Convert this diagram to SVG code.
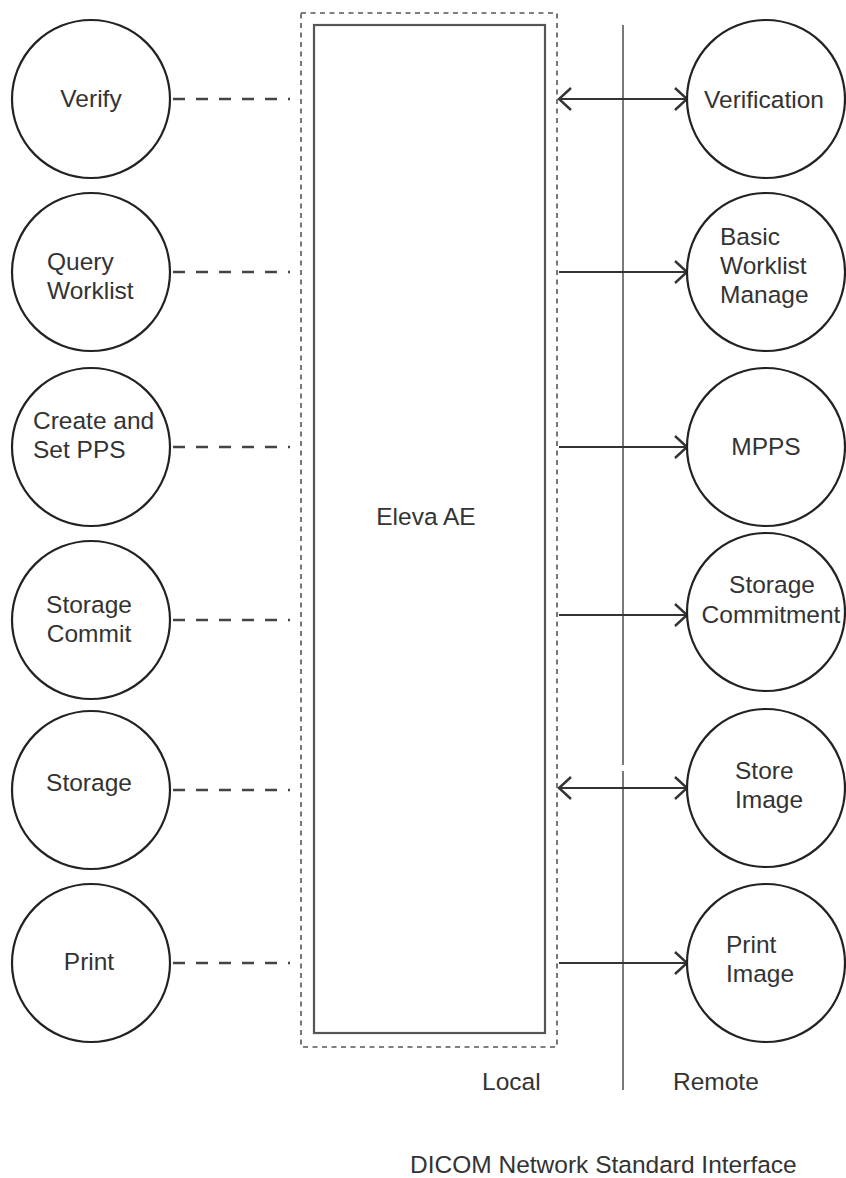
<svg xmlns="http://www.w3.org/2000/svg" width="846" height="1178" viewBox="0 0 846 1178">
<defs>
<style>
.bg{fill:#fff}
.circ{fill:#fff;stroke:#222;stroke-width:2.2}
.lbl{font-family:"Liberation Sans",Arial,sans-serif;font-size:24.5px;fill:#333}
.mid{text-anchor:middle}
.dash{stroke:#444;stroke-width:2.6;stroke-dasharray:12,11;fill:none}
.arr{stroke:#333;stroke-width:2.2;fill:none}
.frame{fill:none;stroke:#555;stroke-width:1.6;stroke-dasharray:5,4.5}
.inner{fill:#fff;stroke:#555;stroke-width:2.2}
.sep{stroke:#333;stroke-width:1.3;fill:none}
</style>
<marker id="chev" viewBox="0 0 16 24" markerUnits="userSpaceOnUse" markerWidth="16" markerHeight="24" refX="13" refY="12" orient="auto-start-reverse">
<path d="M1,1 L13,12 L1,23" fill="none" stroke="#333" stroke-width="2.4"/>
</marker>
</defs>
<rect class="bg" x="0" y="0" width="846" height="1178"/>

<g id="system">
<rect class="frame" x="301" y="13" width="256" height="1034"/>
<rect class="inner" x="314" y="25" width="231" height="1008"/>
<text class="lbl mid" x="426" y="525">Eleva AE</text>
</g>

<g id="boundary">
<path class="sep" d="M623,25 V765 M623,771 V1090"/>
<text class="lbl" x="482" y="1090">Local</text>
<text class="lbl" x="673" y="1090">Remote</text>
<text class="lbl" x="410" y="1173">DICOM Network Standard Interface</text>
</g>

<g id="connectors">
<line class="dash" x1="173" y1="99" x2="290" y2="99"/>
<line class="dash" x1="173" y1="272" x2="290" y2="272"/>
<line class="dash" x1="173" y1="447" x2="290" y2="447"/>
<line class="dash" x1="173" y1="620" x2="290" y2="620"/>
<line class="dash" x1="173" y1="790" x2="290" y2="790"/>
<line class="dash" x1="173" y1="963" x2="290" y2="963"/>
<line class="arr" x1="559" y1="99" x2="687" y2="99" marker-start="url(#chev)" marker-end="url(#chev)"/>
<line class="arr" x1="559" y1="272" x2="687" y2="272" marker-end="url(#chev)"/>
<line class="arr" x1="559" y1="447" x2="687" y2="447" marker-end="url(#chev)"/>
<line class="arr" x1="559" y1="615" x2="687" y2="615" marker-end="url(#chev)"/>
<line class="arr" x1="559" y1="788" x2="687" y2="788" marker-start="url(#chev)" marker-end="url(#chev)"/>
<line class="arr" x1="559" y1="963" x2="687" y2="963" marker-end="url(#chev)"/>
</g>

<g id="verify">
<circle class="circ" cx="91" cy="99" r="79"/>
<text class="lbl mid" x="91" y="107">Verify</text>
</g>
<g id="query-worklist">
<circle class="circ" cx="91" cy="272" r="79"/>
<text class="lbl" x="47" y="270">Query</text>
<text class="lbl" x="47" y="299">Worklist</text>
</g>
<g id="create-set-pps">
<circle class="circ" cx="91" cy="447" r="79"/>
<text class="lbl" x="33" y="429">Create and</text>
<text class="lbl" x="33" y="458">Set PPS</text>
</g>
<g id="storage-commit">
<circle class="circ" cx="91" cy="620" r="79"/>
<text class="lbl mid" x="89" y="613">Storage</text>
<text class="lbl mid" x="89" y="642">Commit</text>
</g>
<g id="storage">
<circle class="circ" cx="91" cy="790" r="79"/>
<text class="lbl mid" x="89" y="791">Storage</text>
</g>
<g id="print">
<circle class="circ" cx="91" cy="963" r="79"/>
<text class="lbl mid" x="89" y="970">Print</text>
</g>

<g id="verification">
<circle class="circ" cx="766" cy="99" r="79"/>
<text class="lbl mid" x="764" y="108">Verification</text>
</g>
<g id="basic-worklist-manage">
<circle class="circ" cx="766" cy="272" r="79"/>
<text class="lbl" x="720" y="245">Basic</text>
<text class="lbl" x="720" y="274">Worklist</text>
<text class="lbl" x="720" y="303">Manage</text>
</g>
<g id="mpps">
<circle class="circ" cx="766" cy="447" r="79"/>
<text class="lbl mid" x="766" y="455">MPPS</text>
</g>
<g id="storage-commitment">
<circle class="circ" cx="766" cy="612" r="79"/>
<text class="lbl mid" x="772" y="593">Storage</text>
<text class="lbl mid" x="771" y="623">Commitment</text>
</g>
<g id="store-image">
<circle class="circ" cx="766" cy="788" r="79"/>
<text class="lbl" x="735" y="779">Store</text>
<text class="lbl" x="735" y="808">Image</text>
</g>
<g id="print-image">
<circle class="circ" cx="766" cy="963" r="79"/>
<text class="lbl" x="726" y="953">Print</text>
<text class="lbl" x="726" y="982">Image</text>
</g>
</svg>
